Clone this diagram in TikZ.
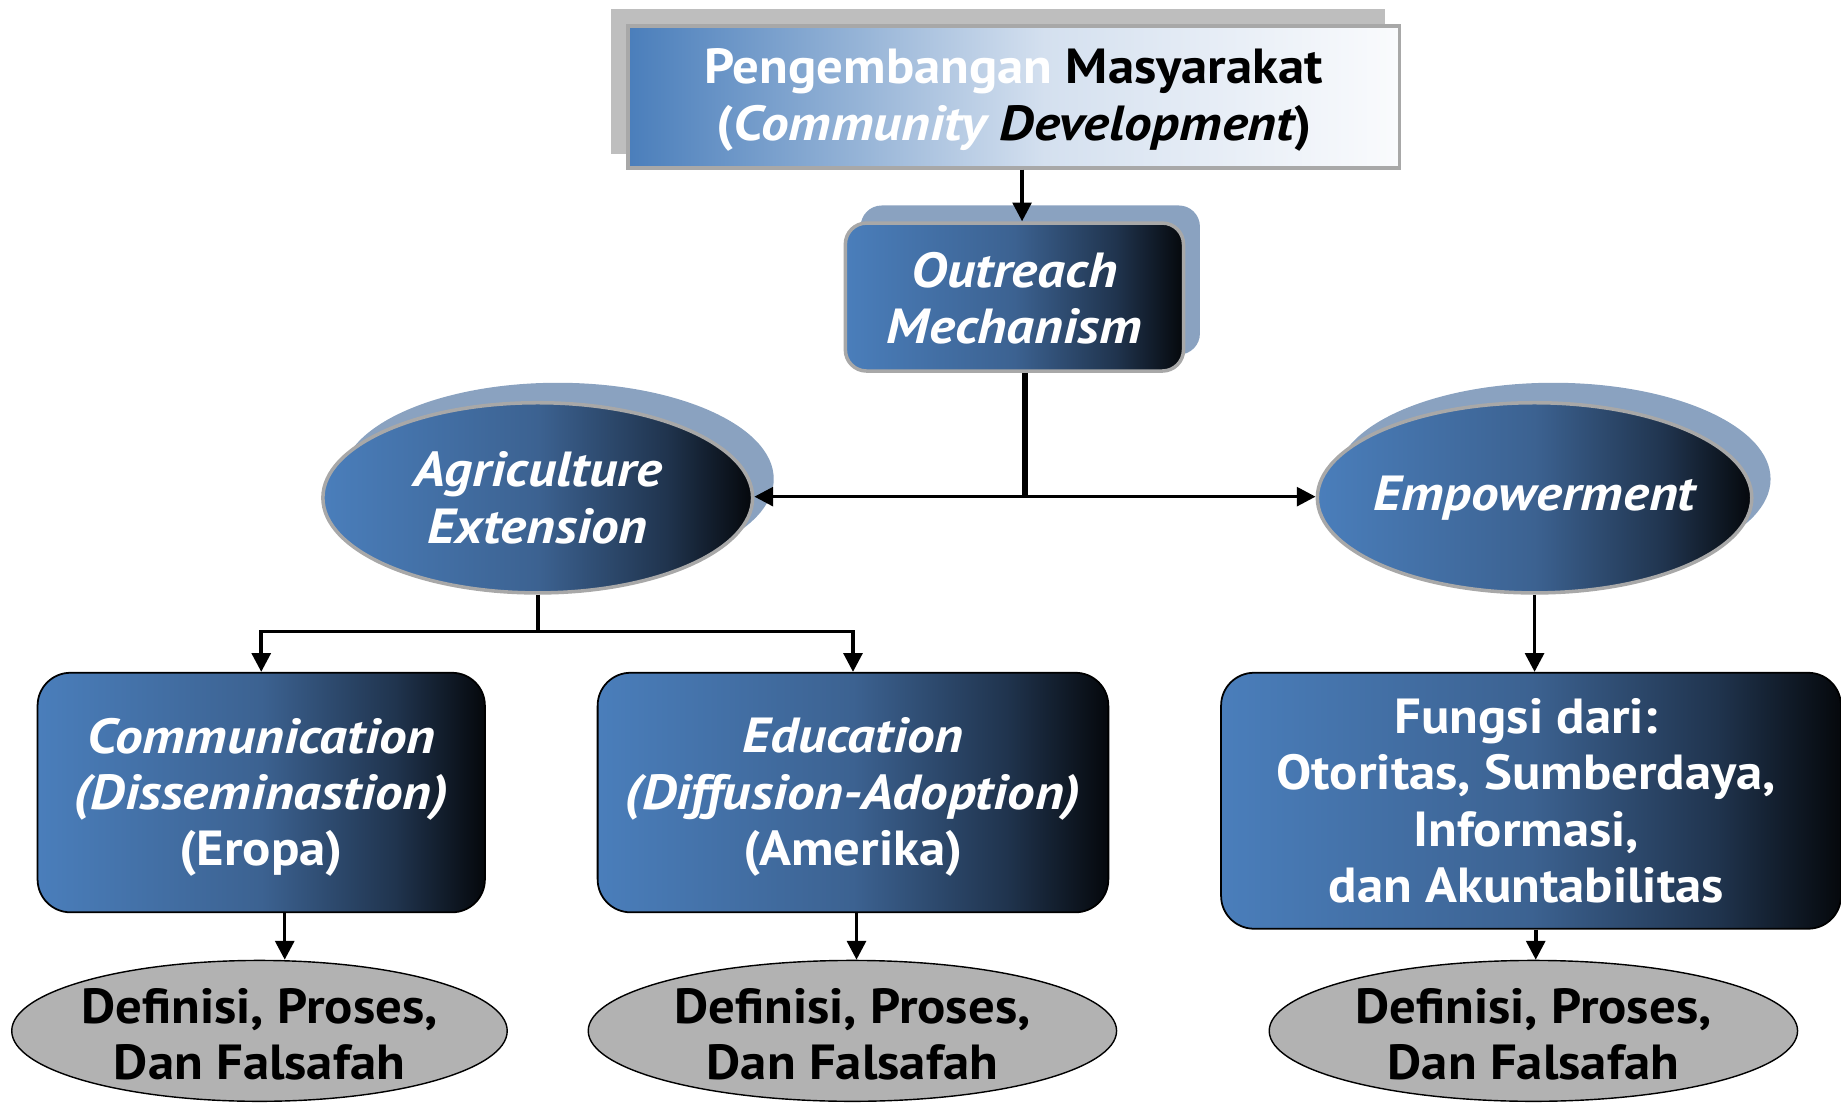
\documentclass[tikz,border=0pt]{standalone}
\usepackage{fontspec}
\setmainfont{PT Sans}[FakeStretch=1.07]
\newfontfamily\itfam{PT Sans}[FakeStretch=1.12]
\usetikzlibrary{shapes.geometric,arrows.meta,calc}
\definecolor{bA}{RGB}{74,126,187}
\definecolor{bB}{RGB}{60,98,145}
\definecolor{bC}{RGB}{32,52,78}
\definecolor{bD}{RGB}{5,8,12}
\definecolor{wA}{RGB}{74,126,187}
\definecolor{wB}{RGB}{150,180,215}
\definecolor{wC}{RGB}{212,224,239}
\definecolor{wD}{RGB}{250,251,253}
\definecolor{shadowblue}{RGB}{138,162,192}
\definecolor{shadowgray}{RGB}{190,190,190}
\definecolor{rimgray}{RGB}{168,168,168}
\definecolor{ovalgray}{RGB}{178,178,178}
\newcommand{\ita}[1]{{\itfam\bfseries\itshape #1}}
\pgfdeclarehorizontalshading{blueblack}{100bp}{color(0bp)=(bA); color(25bp)=(bA); color(50bp)=(bB); color(65bp)=(bC); color(75bp)=(bD); color(100bp)=(bD)}
\pgfdeclarehorizontalshading{bluewhite}{100bp}{color(0bp)=(wA); color(25bp)=(wA); color(40bp)=(wB); color(52bp)=(wC); color(75bp)=(wD); color(100bp)=(wD)}
\tikzset{
  txt/.style={font=\fontsize{42}{48}\selectfont\bfseries, align=center, inner sep=0pt},
  wtxt/.style={txt, text=white},
  btxt/.style={txt, text=black},
  darkbox/.style={rectangle, rounded corners=28pt, draw=black, line width=1.5pt, shade, shading=blueblack, inner sep=0pt},
  rimbox/.style={rectangle, draw=rimgray, line width=3pt, shade, shading=blueblack, inner sep=0pt},
  rimoval/.style={ellipse, draw=rimgray, line width=3pt, shade, shading=blueblack, inner sep=0pt},
  shadowoval/.style={ellipse, fill=shadowblue, inner sep=0pt},
  grayoval/.style={ellipse, draw=black, line width=1.2pt, fill=ovalgray, inner sep=0pt},
  arr/.style={line width=3pt, -{Triangle[length=16pt,width=16pt]}},
  plain/.style={line width=3pt},
}
\begin{document}
\begin{tikzpicture}[x=1pt,y=-1pt]
\useasboundingbox (0,0) rectangle (1568,940);
% top box
\node[rectangle, fill=shadowgray, minimum width=660pt, minimum height=123pt, inner sep=0pt] (topsh) at (850,69.5) {};
\node[rectangle, draw=rimgray, line width=3pt, shade, shading=bluewhite, minimum width=657pt, minimum height=121pt, inner sep=0pt] (top) at (863.5,82.5) {};
\node[btxt] (toptxt) at (863.5,85) {{\color{white}Pengembangan} Masyarakat\\{\color{white}(\ita{Community}} \ita{Development})};
% outreach
\node[rectangle, rounded corners=18pt, fill=shadowblue, minimum width=289pt, minimum height=127pt, inner sep=0pt] (outsh) at (877.5,238.5) {};
\node[rimbox, rounded corners=18pt, minimum width=288pt, minimum height=126pt] (outreach) at (864,253) {};
\node[wtxt] (outtxt) at (864,254) {\ita{Outreach}\\\ita{Mechanism}};
% agriculture
\node[shadowoval, minimum width=368pt, minimum height=164pt] (agrish) at (475,408) {};
\node[rimoval, minimum width=366pt, minimum height=162pt] (agri) at (458,424) {};
\node[wtxt] (agritxt) at (458,424) {\ita{Agriculture}\\\ita{Extension}};
% empowerment
\node[shadowoval, minimum width=370pt, minimum height=164pt] (empsh) at (1323,408) {};
\node[rimoval, minimum width=370pt, minimum height=162pt] (emp) at (1307,424) {};
\node[wtxt] (emptxt) at (1307,424) {\ita{Empowerment}};
% lower boxes
\node[darkbox, minimum width=381pt, minimum height=204pt] (comm) at (222.5,675) {};
\node[wtxt] (commtxt) at (222.5,679) {\ita{Communication}\\\ita{(Disseminastion)}\\(Eropa)};
\node[darkbox, minimum width=435pt, minimum height=204pt] (edu) at (726.5,675) {};
\node[wtxt] (edutxt) at (726.5,679) {\ita{Education}\\\ita{(Diffusion-Adoption)}\\(Amerika)};
\node[darkbox, minimum width=528pt, minimum height=218pt] (fungsi) at (1304,682) {};
\node[wtxt] (fungsitxt) at (1300,682) {Fungsi dari:\\Otoritas, Sumberdaya,\\Informasi,\\dan Akuntabilitas};
% gray ovals
\node[grayoval, minimum width=422pt, minimum height=120pt] (g1) at (221,878) {};
\node[btxt] (g1txt) at (221,881) {Definisi, Proses,\\Dan Falsafah};
\node[grayoval, minimum width=450pt, minimum height=120pt] (g2) at (726,878) {};
\node[btxt] (g2txt) at (726,881) {Definisi, Proses,\\Dan Falsafah};
\node[grayoval, minimum width=450pt, minimum height=120pt] (g3) at (1306,878) {};
\node[btxt] (g3txt) at (1306,881) {Definisi, Proses,\\Dan Falsafah};
% connectors
\draw[arr] ([xshift=7pt]top.south) -- ([xshift=7pt]top.south |- outreach.north);
\coordinate (j) at (873,423);
\draw[line width=4.5pt] ([xshift=9pt]outreach.south) -- (j);
\draw[arr] (j) -- (j -| agri.east);
\draw[arr] (j) -- (j -| emp.west);
\coordinate (k) at (460,538);
\draw[plain] (agri.south) -- (agri.south |- k);
\draw[arr] (agri.south |- k) -| (comm.north);
\draw[arr] (agri.south |- k) -| (edu.north);
\draw[arr] (emp.south) -- (emp.south |- fungsi.north);
\draw[arr] ([xshift=20pt]comm.south) -- ([xshift=20pt]comm.south |- g1.north);
\draw[arr] ([xshift=3pt]edu.south) -- ([xshift=3pt]edu.south |- g2.north);
\draw[arr] ([xshift=4pt]fungsi.south) -- ([xshift=4pt]fungsi.south |- g3.north);
\end{tikzpicture}
\end{document}
